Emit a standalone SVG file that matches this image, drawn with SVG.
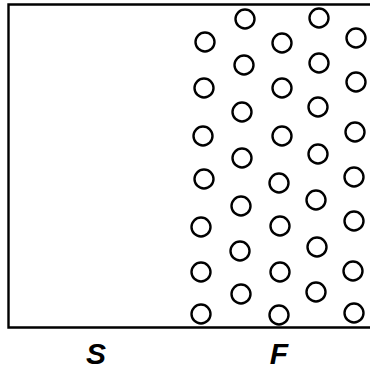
<svg xmlns="http://www.w3.org/2000/svg" width="370" height="372" viewBox="0 0 370 372">
<style>
.c{fill:none;stroke:#000;stroke-width:2.4}
.b{fill:none;stroke:#000;stroke-width:2.4}
.t{font-family:"Liberation Sans",Arial,sans-serif;font-size:30px;font-style:italic;font-weight:bold;fill:#000;text-anchor:middle}
</style>
<rect width="370" height="372" fill="#fff"/>
<path class="b" d="M370,4.5 H8.5 V327.5 H370"/>
<g id="particles">
<circle class="c" cx="205" cy="42" r="9.5"/>
<circle class="c" cx="204" cy="88" r="9.5"/>
<circle class="c" cx="203" cy="136" r="9.5"/>
<circle class="c" cx="204" cy="179" r="9.5"/>
<circle class="c" cx="201" cy="227" r="9.5"/>
<circle class="c" cx="201" cy="272" r="9.5"/>
<circle class="c" cx="201" cy="314" r="9.5"/>
<circle class="c" cx="245" cy="19" r="9.5"/>
<circle class="c" cx="244" cy="65" r="9.5"/>
<circle class="c" cx="242" cy="112" r="9.5"/>
<circle class="c" cx="242" cy="158" r="9.5"/>
<circle class="c" cx="241" cy="206" r="9.5"/>
<circle class="c" cx="240" cy="251" r="9.5"/>
<circle class="c" cx="241" cy="294" r="9.5"/>
<circle class="c" cx="282" cy="43" r="9.5"/>
<circle class="c" cx="282" cy="88" r="9.5"/>
<circle class="c" cx="282" cy="136" r="9.5"/>
<circle class="c" cx="279" cy="183" r="9.5"/>
<circle class="c" cx="280" cy="226" r="9.5"/>
<circle class="c" cx="280" cy="272" r="9.5"/>
<circle class="c" cx="279" cy="315" r="9.5"/>
<circle class="c" cx="319" cy="18" r="9.5"/>
<circle class="c" cx="319" cy="63" r="9.5"/>
<circle class="c" cx="318" cy="107" r="9.5"/>
<circle class="c" cx="318" cy="154" r="9.5"/>
<circle class="c" cx="316" cy="200" r="9.5"/>
<circle class="c" cx="317" cy="247" r="9.5"/>
<circle class="c" cx="316" cy="292" r="9.5"/>
<circle class="c" cx="356" cy="38" r="9.5"/>
<circle class="c" cx="356" cy="82" r="9.5"/>
<circle class="c" cx="355" cy="132" r="9.5"/>
<circle class="c" cx="354" cy="177" r="9.5"/>
<circle class="c" cx="354" cy="221" r="9.5"/>
<circle class="c" cx="353" cy="271" r="9.5"/>
<circle class="c" cx="354" cy="313" r="9.5"/>
</g>
<text class="t" x="96" y="364">S</text>
<text class="t" x="279" y="364">F</text>
</svg>
